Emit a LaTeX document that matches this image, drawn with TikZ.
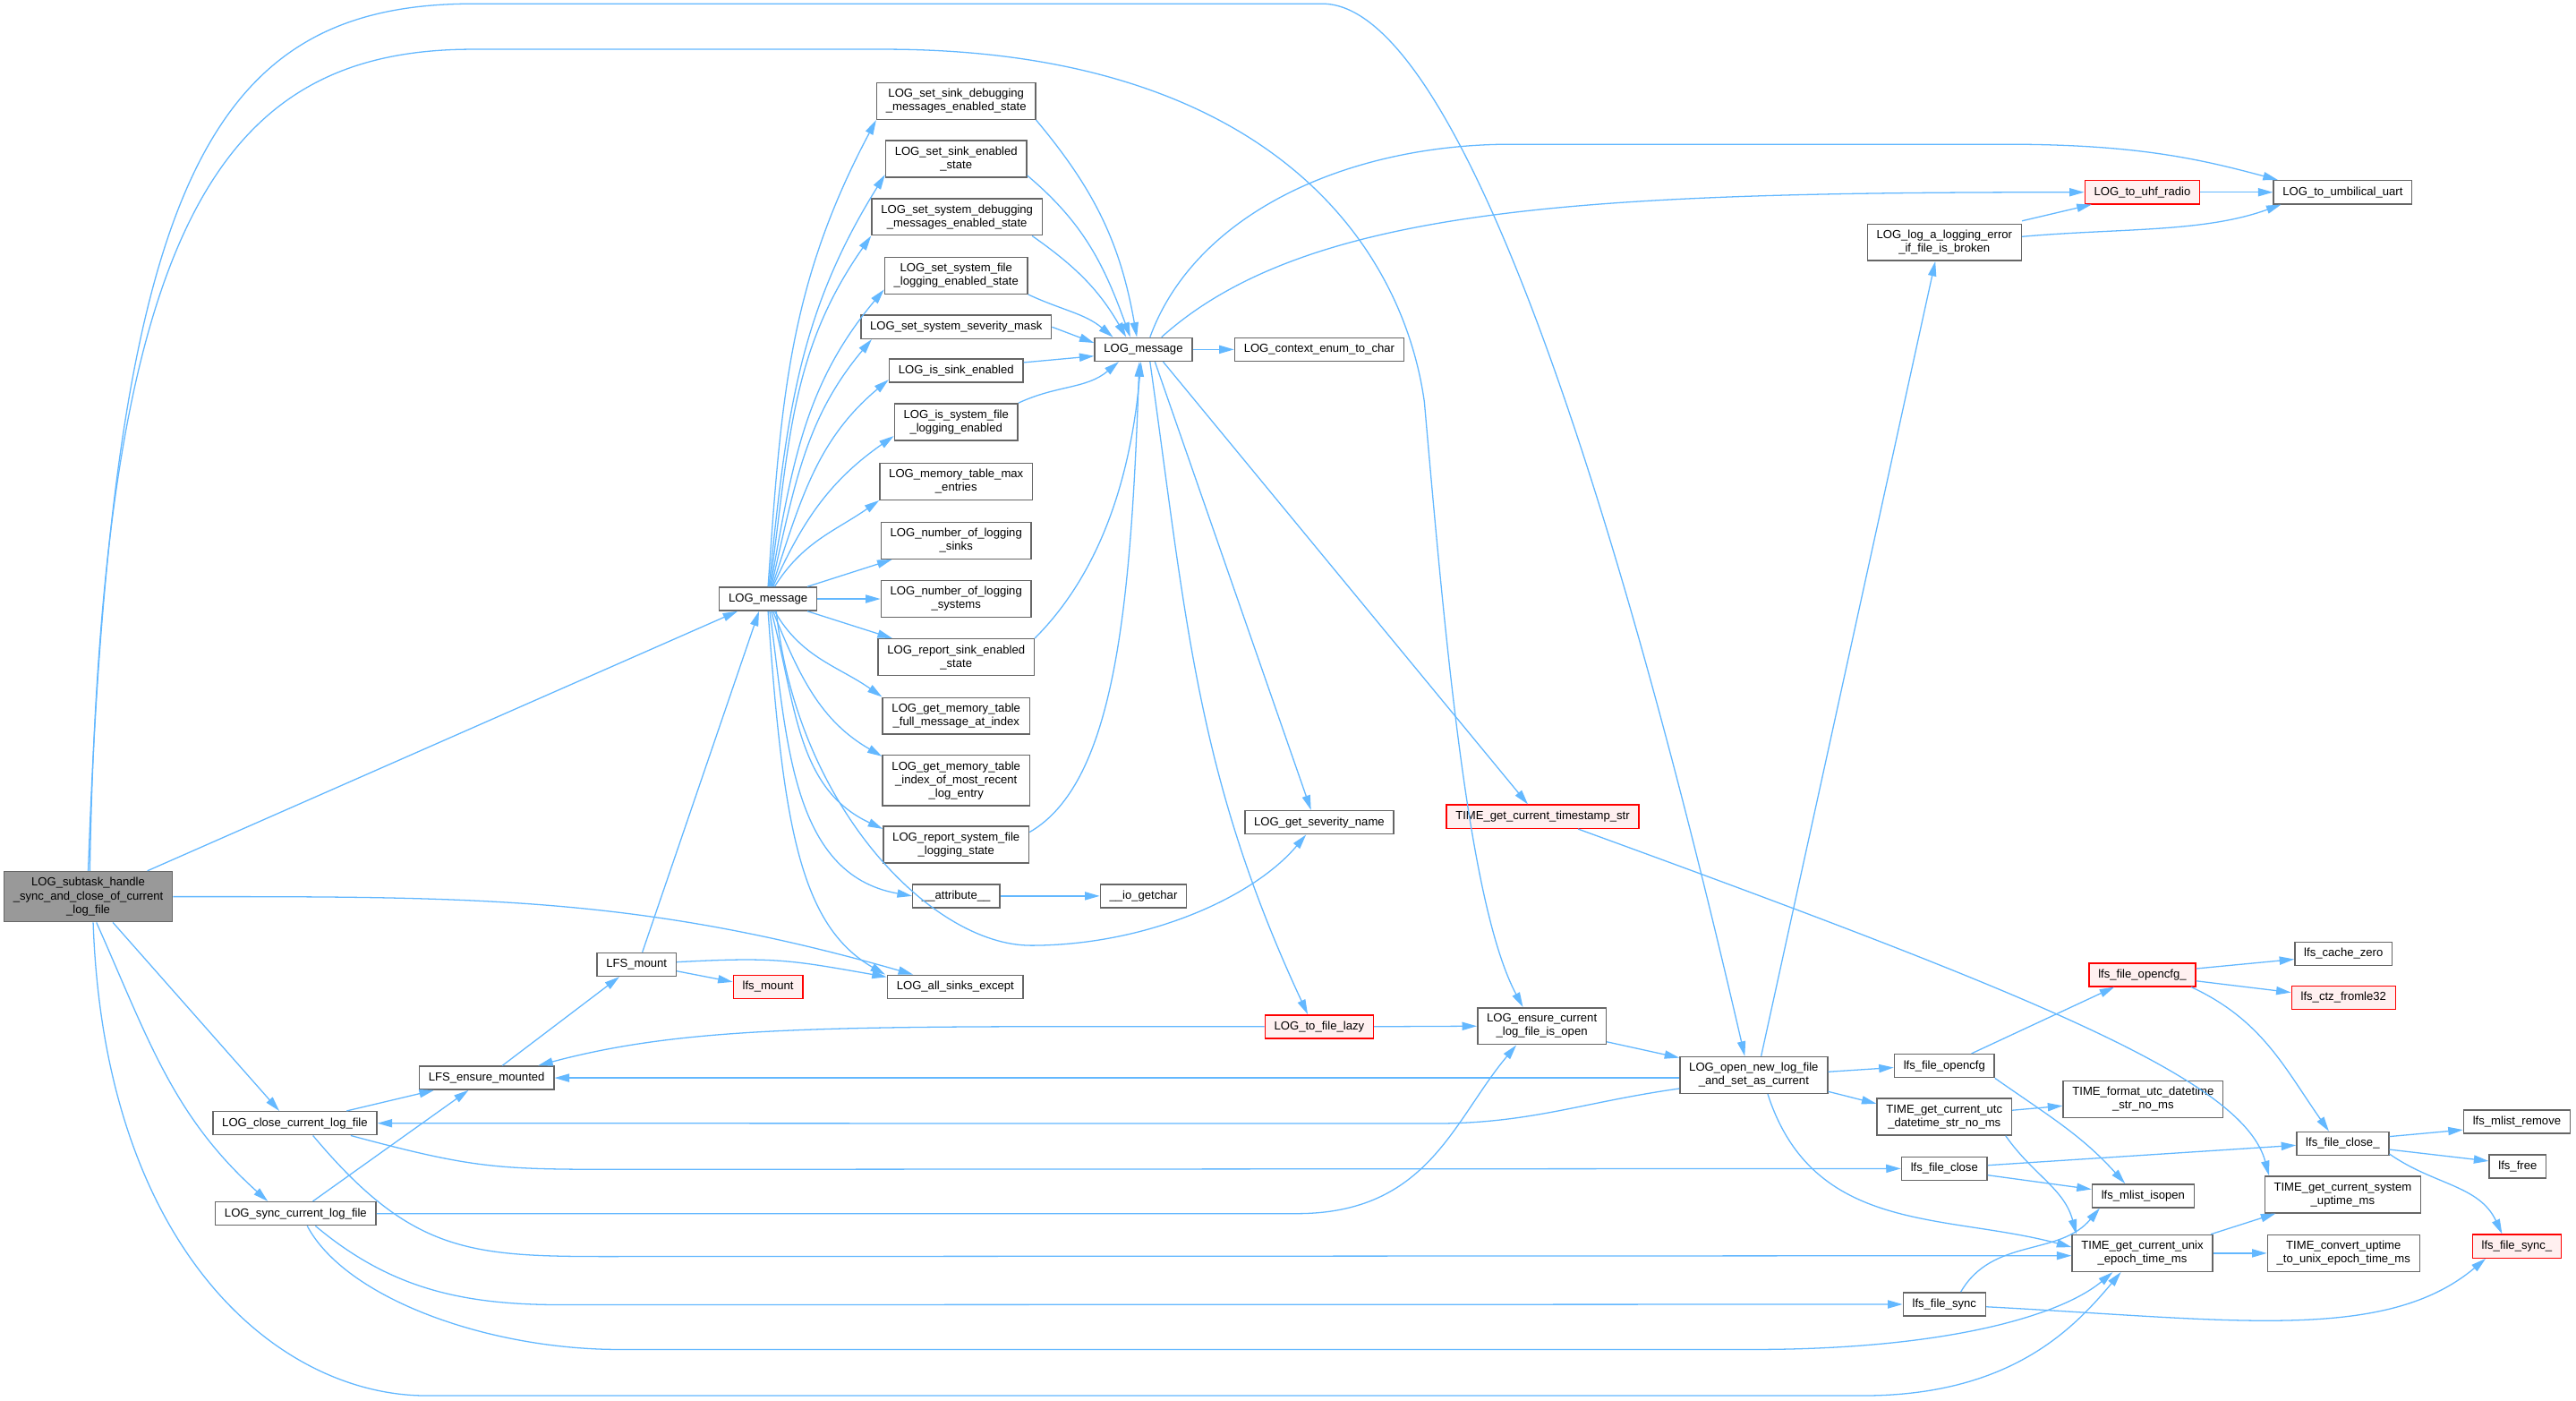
\documentclass[tikz,border=0pt]{standalone}
\usepackage{fontspec}
\setmainfont{Liberation Sans}
\usetikzlibrary{arrows.meta}
\definecolor{edgeblue}{HTML}{63B8FF}
\definecolor{boxgray}{HTML}{666666}
\definecolor{rootgray}{HTML}{999999}
\definecolor{redfill}{HTML}{FFF0F0}
\tikzset{
  fn/.style={rectangle,draw=boxgray,fill=white,line width=0.8pt,inner xsep=5.6pt,inner ysep=1pt,
    minimum height=14.2pt,align=center,font=\fontsize{7.14}{8.2}\selectfont},
  l2/.style={minimum height=22.3pt},
  l3/.style={minimum height=30.6pt},
  redbox/.style={draw=red,fill=redfill},
  rootbox/.style={fill=rootgray},
  call/.style={draw=edgeblue,line width=0.7pt,-{Triangle[length=9pt,width=5pt]}}
}
\begin{document}
\begin{tikzpicture}[x=1pt,y=1pt]
        \fill[white] (0,0) rectangle (1568,-852.65);
        \useasboundingbox (0,0) rectangle (1568,-852.65);
        \begin{scope}[every node/.style={fn}]
        \node[rootbox,l3] (sub) at (53.7,-545.7) {LOG\_subtask\_handle\\\_sync\_and\_close\_of\_current\\\_log\_file};
        \node (msgL) at (467.5,-364.5) {LOG\_message};
        \node (LFSmount) at (387.5,-587) {LFS\_mount};
        \node[redbox] (lfsmount) at (467.5,-600.6) {lfs\_mount};
        \node (allsinks) at (581.5,-600.6) {LOG\_all\_sinks\_except};
        \node (LFSensure) at (296.2,-656) {LFS\_ensure\_mounted};
        \node (close) at (179.5,-683.6) {LOG\_close\_current\_log\_file};
        \node (sync) at (180,-738.6) {LOG\_sync\_current\_log\_file};
        \node[l2] (setsinkdbg) at (582,-61.5) {LOG\_set\_sink\_debugging\\\_messages\_enabled\_state};
        \node[l2] (setsinken) at (582,-96.8) {LOG\_set\_sink\_enabled\\\_state};
        \node[l2] (setsysdbg) at (582.5,-132) {LOG\_set\_system\_debugging\\\_messages\_enabled\_state};
        \node[l2] (setsysfile) at (582,-167.7) {LOG\_set\_system\_file\\\_logging\_enabled\_state};
        \node (sevmask) at (582,-199) {LOG\_set\_system\_severity\_mask};
        \node (issink) at (582,-225.6) {LOG\_is\_sink\_enabled};
        \node[l2] (issysfile) at (582,-256.8) {LOG\_is\_system\_file\\\_logging\_enabled};
        \node[l2] (memmax) at (582,-293) {LOG\_memory\_table\_max\\\_entries};
        \node[l2] (numsinks) at (582,-329) {LOG\_number\_of\_logging\\\_sinks};
        \node[l2] (numsystems) at (582,-364.5) {LOG\_number\_of\_logging\\\_systems};
        \node[l2] (reportsink) at (582,-400) {LOG\_report\_sink\_enabled\\\_state};
        \node[l2] (memfull) at (582,-435.7) {LOG\_get\_memory\_table\\\_full\_message\_at\_index};
        \node[l3] (memindex) at (582,-475) {LOG\_get\_memory\_table\\\_index\_of\_most\_recent\\\_log\_entry};
        \node[l2] (reportsys) at (582,-514) {LOG\_report\_system\_file\\\_logging\_state};
        \node (attribute) at (582,-545.3) {\_\_attribute\_\_};
        \node (iogetchar) at (696,-545.3) {\_\_io\_getchar};
        \node (msgR) at (696,-212.7) {LOG\_message};
        \node (context) at (803,-212.7) {LOG\_context\_enum\_to\_char};
        \node (severity) at (803,-500.5) {LOG\_get\_severity\_name};
        \node[redbox] (lazy) at (803,-624.8) {LOG\_to\_file\_lazy};
        \node[redbox] (timestamp) at (939,-497) {TIME\_get\_current\_timestamp\_str};
        \node[l2] (ensure) at (938.5,-624.5) {LOG\_ensure\_current\\\_log\_file\_is\_open};
        \node[l2] (open) at (1067.5,-654.3) {LOG\_open\_new\_log\_file\\\_and\_set\_as\_current};
        \node[l2] (loga) at (1183.5,-147.5) {LOG\_log\_a\_logging\_error\\\_if\_file\_is\_broken};
        \node[redbox] (uhf) at (1304,-117) {LOG\_to\_uhf\_radio};
        \node (umbilical) at (1426,-117) {LOG\_to\_umbilical\_uart};
        \node (opencfg) at (1183.5,-648.7) {lfs\_file\_opencfg};
        \node[l2] (utc) at (1183.5,-679.7) {TIME\_get\_current\_utc\\\_datetime\_str\_no\_ms};
        \node (fclose) at (1183.5,-711.2) {lfs\_file\_close};
        \node (fsync) at (1183.5,-793.8) {lfs\_file\_sync};
        \node[redbox] (opencfgx) at (1304,-593.2) {lfs\_file\_opencfg\_};
        \node (cachezero) at (1426.5,-580.5) {lfs\_cache\_zero};
        \node[redbox] (ctz) at (1426.5,-607.2) {lfs\_ctz\_fromle32};
        \node[l2] (format) at (1304.5,-669) {TIME\_format\_utc\_datetime\\\_str\_no\_ms};
        \node (isopen) at (1304.5,-727.8) {lfs\_mlist\_isopen};
        \node[l2] (unix) at (1304,-762.7) {TIME\_get\_current\_unix\\\_epoch\_time\_ms};
        \node (fclosex) at (1426,-696) {lfs\_file\_close\_};
        \node (mlistremove) at (1532,-682.6) {lfs\_mlist\_remove};
        \node (free) at (1532.5,-709.8) {lfs\_free};
        \node[l2] (uptime) at (1426,-727) {TIME\_get\_current\_system\\\_uptime\_ms};
        \node[l2] (convert) at (1426.5,-762.7) {TIME\_convert\_uptime\\\_to\_unix\_epoch\_time\_ms};
        \node[redbox] (fsyncx) at (1532,-758.5) {lfs\_file\_sync\_};
        \end{scope}
        \begin{scope}[every edge/.style={call}]
        \path ([xshift=36]sub.north) edge ([xshift=-18.5]msgL.south);
        \path (sub.east) edge[out=0,in=164,out distance=180,in distance=175] ([xshift=16]allsinks.north west);
        \path ([xshift=15]sub.south) edge ([xshift=-9.5]close.north);
        \path ([xshift=5]sub.south) edge[out=-66,in=138] ([xshift=-17]sync.north);
        \draw[call] ([xshift=3]sub.south) to[out=-88,in=180,out distance=200,in distance=90] ++(203,-288)
          -- ++(874,0) to[out=0,in=-130,out distance=90,in distance=45] ([xshift=-13]unix.south);
        \draw[call] (sub.north) to[out=88,in=180,out distance=420,in distance=160] ++(234.3,527.7)
          -- ++(517,0) to[out=0,in=103,out distance=75,in distance=400] ([xshift=-5.5]open.north);
        \draw[call] ([xshift=1]sub.north) to[out=89,in=180,out distance=400,in distance=150] ++(233.3,500)
          -- ++(250,0) to[out=0,in=98,out distance=230,in distance=100] ++(329,-214.6)
          to[out=-85,in=118,out distance=150,in distance=70] ([xshift=-11.5]ensure.north);
        \path (msgL.north) edge[out=86,in=-118] (setsinkdbg.south west);
        \path ([xshift=0.5]msgL.north) edge[out=84,in=-122] ([yshift=2]setsinken.south west);
        \path ([xshift=1]msgL.north) edge[out=82,in=-125] (setsysdbg.south west);
        \path ([xshift=1.5]msgL.north) edge[out=80,in=-130] ([yshift=3]setsysfile.south west);
        \path ([xshift=2]msgL.north) edge[out=77,in=-130] ([xshift=7]sevmask.south west);
        \path ([xshift=2.5]msgL.north) edge[out=72,in=-140] ([yshift=2]issink.south west);
        \path ([xshift=3]msgL.north) edge[out=66,in=-145] ([yshift=3]issysfile.south west);
        \path ([xshift=4]msgL.north) edge[out=58,in=-145] (memmax.south west);
        \path ([xshift=24]msgL.north) edge ([xshift=7]numsinks.south west);
        \path (msgL.east) edge (numsystems.west);
        \path ([xshift=24]msgL.south) edge ([xshift=9]reportsink.north west);
        \path ([xshift=4]msgL.south) edge[out=-60,in=145] (memfull.north west);
        \path ([xshift=3]msgL.south) edge[out=-68,in=150] ([yshift=-1]memindex.north west);
        \path ([xshift=2]msgL.south) edge[out=-75,in=155] ([yshift=-2]reportsys.north west);
        \path ([xshift=1]msgL.south) edge[out=-82,in=170] (attribute.west);
        \path (msgL.south) edge[out=-86,in=150,out distance=130,in distance=60] ([xshift=-1]allsinks.north west);
        \draw[call] ([xshift=5]msgL.south) to[out=-84,in=180,out distance=120,in distance=60] ++(155,-203.4)
          to[out=0,in=-130,out distance=70,in distance=50] ([xshift=-8]severity.south);
        \path ([xshift=3.5]LFSmount.north) edge ([xshift=-5.5]msgL.south);
        \path ([yshift=-4]LFSmount.east) edge ([yshift=3]lfsmount.west);
        \path ([yshift=1.5]LFSmount.east) edge[out=3,in=170,out distance=60,in distance=60] ([yshift=-1.5]allsinks.north west);
        \path ([xshift=9.6]LFSensure.north) edge ([xshift=-10.5]LFSmount.south);
        \path ([xshift=31.5]close.north) edge ([xshift=-32]LFSensure.south);
        \draw[call] ([xshift=34]close.south) to[out=-15,in=180,out distance=80,in distance=80] ++(170,-20.6) -- (fclose.west);
        \draw[call] ([xshift=11]close.south) to[out=-50,in=180,out distance=100,in distance=100] ++(200,-73.6) -- ([yshift=-1.5]unix.west);
        \path ([xshift=10.4]sync.north) edge ([xshift=-11]LFSensure.south);
        \draw[call] (sync.east) -- ++(560,0) to[out=0,in=-130,out distance=80,in distance=60] ([xshift=-15.5]ensure.south);
        \draw[call] ([xshift=12]sync.south) to[out=-40,in=180,out distance=60,in distance=60] ++(150,-48) -- (fsync.west);
        \draw[call] ([xshift=7]sync.south) to[out=-62,in=180,out distance=50,in distance=80] ++(190,-75.2)
          -- ++(690,0) to[out=0,in=-140,out distance=120,in distance=40] ([xshift=-18]unix.south);
        \path (lazy.east) edge (ensure.west);
        \path (lazy.west) edge[out=180,in=15,out distance=250,in distance=100] ([xshift=-10]LFSensure.north east);
        \path ([yshift=2]ensure.south east) edge ([yshift=-1]open.north west);
        \path ([yshift=-1.7]open.west) edge (LFSensure.east);
        \draw[call] ([yshift=-8.2]open.west) to[out=188,in=0,out distance=60,in distance=60] ++(-150,-21.3) -- (close.east);
        \path ([xshift=4.5]open.north) edge ([xshift=-5.5]loga.south);
        \path ([yshift=2]open.east) edge ([yshift=-1]opencfg.west);
        \path ([yshift=-10]open.east) edge ([yshift=8]utc.west);
        \path ([xshift=8.5]open.south) edge[out=-72,in=165,out distance=90,in distance=80] ([yshift=3.7]unix.west);
        \path ([yshift=1.5]loga.north east) edge ([xshift=4.5]uhf.south west);
        \path ([yshift=3.5]loga.east) edge[out=5,in=-160,out distance=60,in distance=50] ([xshift=5]umbilical.south west);
        \path (uhf.east) edge (umbilical.west);
        \path (msgR.east) edge (context.west);
        \path ([xshift=11]msgR.north) edge[out=42,in=180,out distance=120,in distance=300] (uhf.west);
        \draw[call] ([xshift=4]msgR.north) to[out=70,in=180,out distance=80,in distance=100] ++(220,117.4)
          -- ++(300,0) to[out=0,in=165,out distance=80,in distance=50] ([xshift=3]umbilical.north west);
        \path ([xshift=7]msgR.south) edge ([xshift=-5]severity.north);
        \path ([xshift=12]msgR.south) edge ([xshift=-9]timestamp.north);
        \path ([xshift=4]msgR.south) edge[out=-82,in=115] ([xshift=-7]lazy.north);
        \path (setsinkdbg.south east) edge[out=-50,in=100] ([xshift=-4]msgR.north);
        \path ([yshift=1.5]setsinken.south east) edge[out=-40,in=110] ([xshift=-8]msgR.north);
        \path ([xshift=-6.5]setsysdbg.south east) edge[out=-35,in=120] ([xshift=-10.5]msgR.north);
        \path (setsysfile.south east) edge[out=-25,in=140] ([xshift=-18.5]msgR.north);
        \path (sevmask.east) edge ([yshift=4]msgR.west);
        \path ([yshift=5]issink.east) edge ([yshift=-4]msgR.west);
        \path (issysfile.north east) edge[out=25,in=-140] ([xshift=-15]msgR.south);
        \path (reportsink.north east) edge[out=45,in=-95,out distance=50,in distance=80] ([xshift=-1.5]msgR.south);
        \path ([yshift=-4]reportsys.north east) edge[out=30,in=-92,out distance=60,in distance=150] ([xshift=-2.5]msgR.south);
        \path (attribute.east) edge (iogetchar.west);
        \path ([xshift=21.5]timestamp.south) edge[out=-20,in=105,out distance=300,in distance=60] ([xshift=3]uptime.north west);
        \path ([xshift=16.5]opencfg.north) edge ([xshift=-17]opencfgx.south);
        \path (opencfg.south east) edge[out=-35,in=132] ([xshift=-11]isopen.north);
        \path ([yshift=4]utc.east) edge ([yshift=-4]format.west);
        \path ([xshift=-4]utc.south east) edge[out=-55,in=105] ([xshift=3]unix.north west);
        \path ([yshift=2]fclose.east) edge ([yshift=-1]fclosex.west);
        \path ([yshift=-4]fclose.east) edge ([yshift=4]isopen.west);
        \path ([xshift=10]fsync.north) edge[out=60,in=-130] ([xshift=5]isopen.south west);
        \path ([yshift=-1.5]fsync.east) edge[out=-3,in=-140,out distance=150,in distance=80] ([xshift=-19]fsyncx.south);
        \path ([yshift=3.7]opencfgx.east) edge ([yshift=-3.3]cachezero.west);
        \path ([yshift=-3.8]opencfgx.east) edge ([yshift=3.2]ctz.west);
        \path ([xshift=-3]opencfgx.south east) edge[out=-25,in=125] ([xshift=-8.4]fclosex.north);
        \path ([xshift=-1.4]unix.north east) edge ([xshift=7]uptime.south west);
        \path (unix.east) edge (convert.west);
        \path ([yshift=4.3]fclosex.east) edge ([yshift=-5]mlistremove.west);
        \path ([yshift=-3.6]fclosex.east) edge ([yshift=3.2]free.west);
        \path ([yshift=-6.3]fclosex.east) edge[out=-35,in=115] ([xshift=-9]fsyncx.north);
        \end{scope}
\end{tikzpicture}
\end{document}
